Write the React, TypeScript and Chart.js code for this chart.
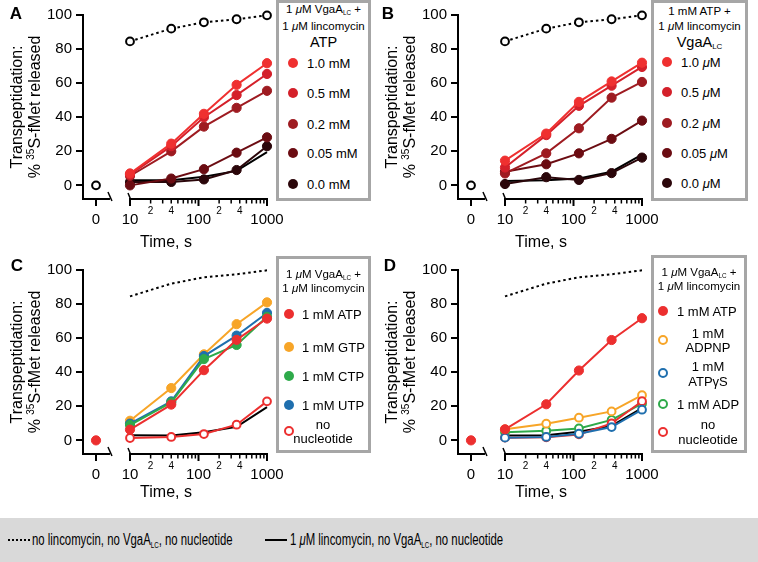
import React, { useEffect, useRef } from 'react';
import { Chart, registerables } from 'chart.js';

Chart.register(...registerables);

const FONT = '"Liberation Sans", Arial, Helvetica, sans-serif';

// ---------------- data ----------------
const times = [10, 40, 120, 360, 1000];
const zeroValue = [0];
const yTickValues = [0, 20, 40, 60, 80, 100];
const xMajorTicks = [10, 100, 1000];
const xMajorLabels = ['10', '100', '1000'];
const xLabeledMinor = [20, 40, 200, 400];
const xLabeledMinorLabels = ['2', '4', '2', '4'];
const xMinorTicks = [20, 30, 40, 50, 60, 70, 80, 90, 200, 300, 400, 500, 600, 700, 800, 900];
const zeroLabel = '0';
const xTitle = 'Time, s';
const yTitle1 = 'Transpeptidation:';

// controls
const noLincomycin = [84.5, 92, 95.7, 97.5, 99.8];
const lincomycinA = [3, 3, 5, 8.5, 19.5];
const lincomycinB = [2.5, 3, 4, 8, 18];
const lincomycinC = [3, 2.8, 4.8, 8, 19.5];
const lincomycinD = [2.8, 3, 5, 8.5, 19];

// panel A: ATP titration
const atp10 = [7, 24.5, 42, 59, 71.7];
const atp05 = [6.3, 23, 40, 53, 65.4];
const atp02 = [5.5, 20, 34.5, 45.5, 55.5];
const atp005 = [0, 4, 9.5, 19.2, 28.2];
const atp00 = [2, 2, 3.5, 9, 23];

// panel B: VgaA titration
const vga10 = [14.5, 30.4, 49, 61, 72];
const vga05 = [10.5, 29.5, 46.7, 58.5, 69.5];
const vga02 = [7, 18.8, 33.5, 51.5, 60.7];
const vga005 = [8, 12.4, 18.8, 27.3, 38];
const vga00 = [0.8, 4.8, 3.2, 7.2, 16.3];

// panel C: NTPs
const cATP = [6.3, 21, 41.2, 59, 71.5];
const cGTP = [11.5, 30.7, 50.5, 68.2, 81];
const cCTP = [9, 22.3, 47.7, 56, 72.5];
const cUTP = [9.8, 22.9, 49.5, 61.5, 74.8];
const cNone = [1.4, 2, 3.7, 9.2, 22.9];

// panel D: analogues
const dATP = [6.5, 21.2, 41, 58.9, 71.7];
const dADPNP = [6.5, 9.8, 13.3, 17, 26.5];
const dATPgS = [1.6, 2, 3.9, 7.8, 18];
const dADP = [4.8, 5.6, 7, 12, 21.5];
const dNone = [1.6, 1.8, 3.5, 10, 23];

// ---------------- styling ----------------
const reds = ['#ef3030', '#d4202a', '#9e1b21', '#6b0c12', '#2b060a'];
const RED = '#ec2f2f';
const ORANGE = '#f7a528';
const GREEN = '#2eaa4a';
const BLUE = '#1f6fae';

// broken-axis geometry (axis values, log scale)
const X_MIN = 2.06;
const ZERO_POS = 3.19;
const BREAK_POS = 5.1;

const CW = 383;
const CH = 250;

type Kind = 'filled' | 'open' | 'solid' | 'dotted' | 'dottedOpen';

function ds(values: number[], color: string, kind: Kind, xs: number[] = times, showLine = true): any {
  const data = xs.map((t, i) => ({ x: t, y: values[i] }));
  const d: any = {
    data,
    borderColor: color,
    backgroundColor: color,
    borderWidth: 2,
    clip: false,
    showLine,
    pointHoverRadius: 0,
    tension: 0,
  };
  if (kind === 'filled') {
    Object.assign(d, { pointRadius: 4.6, pointBackgroundColor: color, pointBorderColor: color, pointBorderWidth: 1 });
  } else if (kind === 'open') {
    Object.assign(d, { pointRadius: 3.9, pointBackgroundColor: '#fff', pointBorderColor: color, pointBorderWidth: 2 });
  } else if (kind === 'solid') {
    Object.assign(d, { pointRadius: 0 });
  } else if (kind === 'dotted') {
    Object.assign(d, { pointRadius: 0, borderDash: [2.5, 3] });
  } else {
    Object.assign(d, { pointRadius: 3.9, pointBackgroundColor: '#fff', pointBorderColor: color, pointBorderWidth: 2, borderDash: [2.5, 3] });
  }
  return d;
}

const zeroPoint = (color: string, open: boolean) => ds(zeroValue, color, open ? 'open' : 'filled', [ZERO_POS], false);

const axisPlugin = {
  id: 'brokenAxis',
  afterDraw(chart: any) {
    const { ctx, chartArea: ca } = chart;
    const xs = chart.scales.x;
    const B = ca.bottom;
    const px = (v: number) => xs.getPixelForValue(v);
    ctx.save();
    ctx.strokeStyle = '#000';
    ctx.fillStyle = '#000';
    ctx.lineCap = 'butt';
    ctx.lineWidth = 2;
    const xb = px(BREAK_POS);
    const x10 = px(10);
    const x1000 = px(1000);
    ctx.beginPath();
    ctx.moveTo(ca.left - 1, B);
    ctx.lineTo(xb, B);
    ctx.stroke();
    ctx.beginPath();
    ctx.moveTo(x10 - 1, B);
    ctx.lineTo(x1000 + 1, B);
    ctx.stroke();
    // break marks
    ctx.lineWidth = 1.5;
    ctx.beginPath();
    ctx.moveTo(xb - 2, B - 7);
    ctx.lineTo(xb + 2, B + 2);
    ctx.stroke();
    ctx.beginPath();
    ctx.moveTo(x10 - 2, B - 6);
    ctx.lineTo(x10 + 0.5, B);
    ctx.stroke();
    // ticks
    ctx.lineWidth = 2;
    [ZERO_POS, ...xMajorTicks].forEach((v) => {
      const x = px(v);
      ctx.beginPath();
      ctx.moveTo(x, B);
      ctx.lineTo(x, B + 7);
      ctx.stroke();
    });
    ctx.lineWidth = 1.5;
    xMinorTicks.forEach((v) => {
      const x = px(v);
      ctx.beginPath();
      ctx.moveTo(x, B);
      ctx.lineTo(x, B + 4.5);
      ctx.stroke();
    });
    // tick labels
    ctx.textAlign = 'center';
    ctx.textBaseline = 'middle';
    ctx.font = `15px ${FONT}`;
    ctx.fillText(zeroLabel, px(ZERO_POS), B + 21);
    xMajorTicks.forEach((v, i) => ctx.fillText(xMajorLabels[i], px(v), B + 21));
    ctx.font = `10px ${FONT}`;
    xLabeledMinor.forEach((v, i) => ctx.fillText(xLabeledMinorLabels[i], px(v), B + 12));
    // x title
    ctx.font = `16px ${FONT}`;
    ctx.fillText(xTitle, ca.left + 83, 243);
    // y title
    const cy = (ca.top + ca.bottom) / 2;
    ctx.textBaseline = 'alphabetic';
    ctx.save();
    ctx.translate(21.5, cy);
    ctx.rotate(-Math.PI / 2);
    ctx.textAlign = 'center';
    ctx.font = `16px ${FONT}`;
    ctx.fillText(yTitle1, 0, 0);
    ctx.restore();
    ctx.save();
    ctx.translate(40, cy);
    ctx.rotate(-Math.PI / 2);
    ctx.textAlign = 'left';
    const big = `16px ${FONT}`;
    const small = `10px ${FONT}`;
    ctx.font = big;
    const w1 = ctx.measureText('% ').width;
    const w3 = ctx.measureText('S-fMet released').width;
    ctx.font = small;
    const w2 = ctx.measureText('35').width;
    let p = -(w1 + w2 + w3) / 2;
    ctx.font = big;
    ctx.fillText('% ', p, 0);
    p += w1;
    ctx.font = small;
    ctx.fillText('35', p, -6);
    p += w2;
    ctx.font = big;
    ctx.fillText('S-fMet released', p, 0);
    ctx.restore();
    ctx.restore();
  },
};

function Panel({ left, top, padTop, datasets }: { left: number; top: number; padTop: number; datasets: any[] }) {
  const ref = useRef<HTMLCanvasElement>(null);
  useEffect(() => {
    const plotBottom = padTop + 184;
    const chart = new Chart(ref.current as HTMLCanvasElement, {
      type: 'line',
      data: { datasets },
      options: {
        responsive: false,
        animation: false,
        devicePixelRatio: 1,
        events: [],
        layout: { padding: { left: 0, right: CW - 267, top: padTop, bottom: CH - plotBottom } },
        plugins: { legend: { display: false }, tooltip: { enabled: false } },
        scales: {
          x: { type: 'logarithmic', display: false, min: X_MIN, max: 1000, bounds: 'data' },
          y: {
            type: 'linear',
            min: -8,
            max: 100,
            afterFit: (s: any) => {
              s.width = 83;
            },
            afterBuildTicks: (s: any) => {
              s.ticks = yTickValues.map((v) => ({ value: v }));
            },
            border: { display: true, color: '#000', width: 2 },
            grid: { drawOnChartArea: false, drawTicks: true, color: '#000', lineWidth: 2, tickLength: 7 },
            ticks: { color: '#000', font: { family: FONT, size: 15 }, padding: 4 },
          },
        },
      } as any,
      plugins: [axisPlugin],
    });
    return () => chart.destroy();
  }, []);
  return <canvas ref={ref} width={CW} height={CH} style={{ position: 'absolute', left, top }} />;
}

const Txt = ({ x, y, size = 13, center = false, bold = false, children }: any) => (
  <div
    style={{
      position: 'absolute',
      left: x,
      top: y,
      transform: `translate(${center ? '-50%' : '0'}, -50%)`,
      fontSize: size,
      lineHeight: 1,
      whiteSpace: 'nowrap',
      fontWeight: bold ? 'bold' : 'normal',
      color: '#000',
    }}
  >
    {children}
  </div>
);

const Dot = ({ x, y, color, open = false }: any) => (
  <div
    style={{
      position: 'absolute',
      left: x - 5,
      top: y - 5,
      width: 10,
      height: 10,
      borderRadius: '50%',
      boxSizing: 'border-box',
      background: open ? '#fff' : color,
      border: open ? `2px solid ${color}` : 'none',
    }}
  />
);

const Box = ({ x1, y1, x2, y2 }: any) => (
  <div
    style={{
      position: 'absolute',
      left: x1,
      top: y1,
      width: x2 - x1,
      height: y2 - y1,
      border: '3px solid #a6a6a6',
      boxSizing: 'border-box',
      background: '#fff',
    }}
  />
);

const Sub = ({ children }: any) => (
  <span style={{ fontSize: '0.55em', verticalAlign: '-0.3em', lineHeight: 0 }}>{children}</span>
);
const Mu = () => <i>μ</i>;

const Cond = ({ x, y, children }: any) => (
  <div
    style={{
      position: 'absolute',
      left: x,
      top: y,
      fontSize: 16,
      lineHeight: 1,
      whiteSpace: 'nowrap',
      transform: 'translateY(-50%) scaleX(0.71)',
      transformOrigin: 'left center',
    }}
  >
    {children}
  </div>
);

const HEAD = 11.5;

export default function App() {
  const dsA = [
    ds(atp10, reds[0], 'filled'),
    ds(atp05, reds[1], 'filled'),
    ds(atp02, reds[2], 'filled'),
    ds(atp005, reds[3], 'filled'),
    ds(atp00, reds[4], 'filled'),
    ds(lincomycinA, '#000', 'solid'),
    ds(noLincomycin, '#000', 'dottedOpen'),
    zeroPoint('#000', true),
  ];
  const dsB = [
    ds(vga10, reds[0], 'filled'),
    ds(vga05, reds[1], 'filled'),
    ds(vga02, reds[2], 'filled'),
    ds(vga005, reds[3], 'filled'),
    ds(vga00, reds[4], 'filled'),
    ds(lincomycinB, '#000', 'solid'),
    ds(noLincomycin, '#000', 'dottedOpen'),
    zeroPoint('#000', true),
  ];
  const dsC = [
    ds(cATP, RED, 'filled'),
    ds(cCTP, GREEN, 'filled'),
    ds(cUTP, BLUE, 'filled'),
    ds(cGTP, ORANGE, 'filled'),
    ds(cNone, RED, 'open'),
    ds(lincomycinC, '#000', 'solid'),
    ds(noLincomycin, '#000', 'dotted'),
    zeroPoint(RED, false),
  ];
  const dsD = [
    ds(dATP, RED, 'filled'),
    ds(dATPgS, BLUE, 'open'),
    ds(dNone, RED, 'open'),
    ds(dADPNP, ORANGE, 'open'),
    ds(dADP, GREEN, 'open'),
    ds(lincomycinD, '#000', 'solid'),
    ds(noLincomycin, '#000', 'dotted'),
    zeroPoint(RED, false),
  ];

  return (
    <div style={{ position: 'absolute', left: 0, top: 0, width: 758, height: 562, background: '#fff', fontFamily: FONT, overflow: 'hidden' }}>
      <Panel left={0} top={0} padTop={15} datasets={dsA} />
      <Panel left={375} top={0} padTop={15} datasets={dsB} />
      <Panel left={0} top={250} padTop={20} datasets={dsC} />
      <Panel left={375} top={250} padTop={20} datasets={dsD} />

      <Txt x={16} y={13} size={17} bold center>A</Txt>
      <Txt x={388} y={13} size={17} bold center>B</Txt>
      <Txt x={17} y={265} size={17} bold center>C</Txt>
      <Txt x={390} y={265} size={17} bold center>D</Txt>

      {/* Legend A */}
      <Box x1={276} y1={0} x2={371} y2={201} />
      <Txt x={323.5} y={10} size={HEAD} center>1 <Mu />M VgaA<Sub>LC</Sub> +</Txt>
      <Txt x={323.5} y={26.5} size={HEAD} center>1 <Mu />M lincomycin</Txt>
      <Txt x={323.5} y={42} size={14.5} center>ATP</Txt>
      {['1.0 mM', '0.5 mM', '0.2 mM', '0.05 mM', '0.0 mM'].map((l, i) => (
        <React.Fragment key={l}>
          <Dot x={293} y={[63, 93, 124, 153, 184][i]} color={reds[i]} />
          <Txt x={307} y={[63, 93, 124, 153, 184][i]}>{l}</Txt>
        </React.Fragment>
      ))}

      {/* Legend B */}
      <Box x1={651} y1={0} x2={748} y2={201} />
      <Txt x={699.5} y={12} size={HEAD} center>1 mM ATP +</Txt>
      <Txt x={699.5} y={26.5} size={HEAD} center>1 <Mu />M lincomycin</Txt>
      <Txt x={699.5} y={42} size={14.5} center>VgaA<Sub>LC</Sub></Txt>
      {['1.0', '0.5', '0.2', '0.05', '0.0'].map((l, i) => (
        <React.Fragment key={l}>
          <Dot x={667} y={[62, 92, 123, 153, 183][i]} color={reds[i]} />
          <Txt x={681} y={[62, 92, 123, 153, 183][i]}>{l} <Mu />M</Txt>
        </React.Fragment>
      ))}

      {/* Legend C */}
      <Box x1={276} y1={256} x2={371} y2={453} />
      <Txt x={323.5} y={275} size={HEAD} center>1 <Mu />M VgaA<Sub>LC</Sub> +</Txt>
      <Txt x={323.5} y={289} size={HEAD} center>1 <Mu />M lincomycin</Txt>
      <Dot x={289} y={314} color={RED} />
      <Txt x={302} y={314}>1 mM ATP</Txt>
      <Dot x={289} y={347} color={ORANGE} />
      <Txt x={302} y={347}>1 mM GTP</Txt>
      <Dot x={289} y={376} color={GREEN} />
      <Txt x={302} y={376}>1 mM CTP</Txt>
      <Dot x={289} y={405} color={BLUE} />
      <Txt x={302} y={405}>1 mM UTP</Txt>
      <Dot x={289} y={431} color={RED} open />
      <Txt x={323} y={424} center>no</Txt>
      <Txt x={323} y={438} center>nucleotide</Txt>

      {/* Legend D */}
      <Box x1={651} y1={255} x2={747} y2={453} />
      <Txt x={699} y={273} size={HEAD} center>1 <Mu />M VgaA<Sub>LC</Sub> +</Txt>
      <Txt x={699} y={287} size={HEAD} center>1 <Mu />M lincomycin</Txt>
      <Dot x={663} y={311} color={RED} />
      <Txt x={677} y={311}>1 mM ATP</Txt>
      <Dot x={663} y={340} color={ORANGE} open />
      <Txt x={708} y={333} center>1 mM</Txt>
      <Txt x={708} y={347} center>ADPNP</Txt>
      <Dot x={663} y={373} color={BLUE} open />
      <Txt x={708} y={366} center>1 mM</Txt>
      <Txt x={708} y={381} center>ATPγS</Txt>
      <Dot x={663} y={404} color={GREEN} open />
      <Txt x={677} y={404}>1 mM ADP</Txt>
      <Dot x={663} y={432} color={RED} open />
      <Txt x={708} y={424} center>no</Txt>
      <Txt x={708} y={439} center>nucleotide</Txt>

      {/* bottom key */}
      <div style={{ position: 'absolute', left: 0, top: 518, width: 758, height: 44, background: '#d9d9d9' }} />
      <div style={{ position: 'absolute', left: 8, top: 539, width: 22, height: 0, borderTop: '2px dotted #000' }} />
      <Cond x={32} y={540}>no lincomycin, no VgaA<Sub>LC</Sub>, no nucleotide</Cond>
      <div style={{ position: 'absolute', left: 265, top: 539, width: 22, height: 2, background: '#000' }} />
      <Cond x={290} y={540}>1 <Mu />M lincomycin, no VgaA<Sub>LC</Sub>, no nucleotide</Cond>
    </div>
  );
}
